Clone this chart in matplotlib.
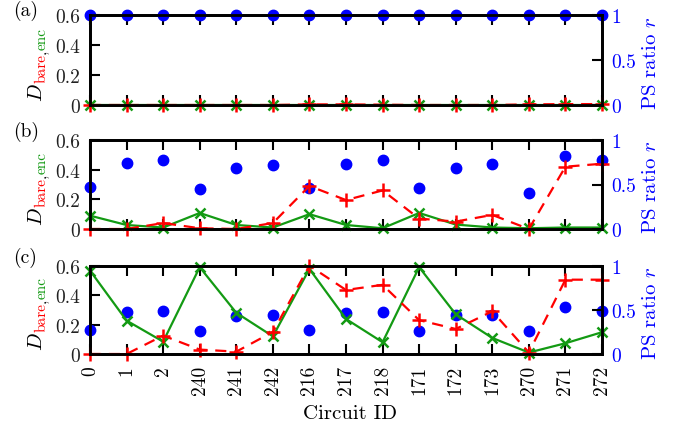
import matplotlib
matplotlib.use('Agg')
import matplotlib.pyplot as plt
import numpy as np

plt.rcParams['font.family'] = ['cmr10', 'DejaVu Serif']
plt.rcParams['mathtext.fontset'] = 'cm'
plt.rcParams['axes.unicode_minus'] = False
plt.rcParams['axes.formatter.use_mathtext'] = True

# ---------------- data ----------------
circuit_ids = ['0', '1', '2', '240', '241', '242', '216', '217', '218',
               '171', '172', '173', '270', '271', '272']

a_bare = [0, 0, 0, 0, 0, 0, 0.004, 0.004, 0.002, 0, 0, 0, 0.004, 0.006, 0.006]
a_enc = [0, 0, 0, 0, 0, 0, 0, 0, 0, 0, 0, 0, 0, 0, 0]
a_ratio = [1, 1, 1, 1, 1, 1, 1, 1, 1, 1, 1, 1, 1, 1, 1]

b_bare = [0, 0, 0.04, 0.005, 0, 0.04, 0.29, 0.195, 0.26, 0.07, 0.05, 0.095, 0, 0.42, 0.44]
b_enc = [0.09, 0.027, 0.01, 0.108, 0.027, 0.01, 0.10, 0.027, 0.005, 0.108, 0.03, 0.01, 0.005, 0.01, 0.01]
b_ratio = [0.47, 0.74, 0.78, 0.45, 0.69, 0.72, 0.46, 0.73, 0.77, 0.46, 0.69, 0.73, 0.41, 0.82, 0.78]

c_bare = [0, 0, 0.125, 0.03, 0.016, 0.15, 0.6, 0.435, 0.47, 0.23, 0.17, 0.29, 0.01, 0.505, 0.505]
c_enc = [0.567, 0.227, 0.084, 0.59, 0.28, 0.12, 0.578, 0.238, 0.08, 0.59, 0.27, 0.109, 0.01, 0.073, 0.148]
c_ratio = [0.27, 0.47, 0.49, 0.26, 0.43, 0.445, 0.275, 0.46, 0.47, 0.26, 0.44, 0.44, 0.26, 0.53, 0.49]

left_ticks = [0, 0.2, 0.4, 0.6]
left_ticklabels = ['0', '0.2', '0.4', '0.6']
right_ticks = [0, 0.5, 1]
right_ticklabels = ['0', '0.5', '1']
panel_letters = ['(a)', '(b)', '(c)']

# ---------------- style ----------------
RED = '#ff0000'
GREEN = '#139a13'
BLUE = '#0000ff'
W, H = 690, 431

fig = plt.figure(figsize=(W / 100, H / 100), dpi=100)

panels = [(a_bare, a_enc, a_ratio), (b_bare, b_enc, b_ratio), (c_bare, c_enc, c_ratio)]
tops = [16, 141, 266.7]
bottoms = [106, 230, 355]
letter_y = [11, 132, 258]
label_center = [65, 189, 314]

x = np.arange(len(circuit_ids))
axes = []
for i, (bare, enc, ratio) in enumerate(panels):
    ax = fig.add_axes([90 / W, 1 - bottoms[i] / H, 512 / W, (bottoms[i] - tops[i]) / H])
    ax2 = ax.twinx()
    ax.set_xlim(0, len(circuit_ids) - 1)
    ax.set_ylim(0, 0.6)
    ax2.set_ylim(0, 1)

    ax.plot(x, ratio, linestyle='none', marker='o', color=BLUE, ms=7.5,
            transform=ax2.transData, clip_on=False, zorder=2.6)
    ax.plot(x, enc, '-', color=GREEN, lw=1.6, marker='x', ms=7.5, mew=1.8,
            clip_on=False, zorder=3)
    ax.plot(x, bare, color=RED, lw=1.6, linestyle=(0, (5, 3.5)), marker='+', ms=10.5,
            mew=1.8, clip_on=False, zorder=3.2)

    for sp in list(ax.spines.values()) + list(ax2.spines.values()):
        sp.set_linewidth(2)

    ax.set_yticks(left_ticks)
    ax.set_yticklabels(left_ticklabels)
    ax2.set_yticks(right_ticks)
    ax2.set_yticklabels(right_ticklabels)
    ax.set_xticks(x)
    ax.tick_params(axis='x', direction='in', top=True, bottom=True, length=7,
                   width=1.5, labelsize=14, pad=8)
    ax.tick_params(axis='y', direction='in', left=True, right=False, length=7,
                   width=1.5, labelsize=14, pad=7, labelcolor='#222222')
    ax2.tick_params(axis='y', direction='in', left=False, right=True, length=7,
                    width=1.5, labelsize=14, pad=7, labelcolor=BLUE)
    if i < 2:
        ax.tick_params(axis='x', labelbottom=False)
    else:
        ax.set_xticklabels(circuit_ids, rotation=90)

    fig.text(13 / W, 1 - letter_y[i] / H, panel_letters[i], fontsize=14,
             ha='left', va='center')
    fig.text(651 / W, 1 - ((tops[i] + bottoms[i]) / 2 + 2) / H, 'PS ratio $r$',
             color=BLUE, fontsize=15, rotation=90, ha='center', va='center')
    axes.append(ax)

fig.text(350 / W, 1 - 414 / H, 'Circuit ID', fontsize=15, ha='center', va='center')

# colored y-labels D_{bare,enc}
renderer = fig.canvas.get_renderer()
parts = [('$D$', 'black', 15, 0.0), ('bare', RED, 11, 4.0),
         (',', 'black', 11, 4.0), ('enc', GREEN, 11, 4.0)]
for i in range(3):
    texts, lengths = [], []
    for s, c, fs, dx in parts:
        t = fig.text(0, 0, s, color=c, fontsize=fs, rotation=90,
                     rotation_mode='anchor', ha='left', va='baseline')
        bb = t.get_window_extent(renderer=renderer)
        texts.append(t)
        lengths.append(bb.height)
    total = sum(lengths)
    yc = H - label_center[i]
    y = yc - total / 2
    xb = 42
    for t, (s, c, fs, dx), L in zip(texts, parts, lengths):
        t.set_position(((xb + dx) / W, y / H))
        y += L

fig.savefig('out.png', dpi=100)
